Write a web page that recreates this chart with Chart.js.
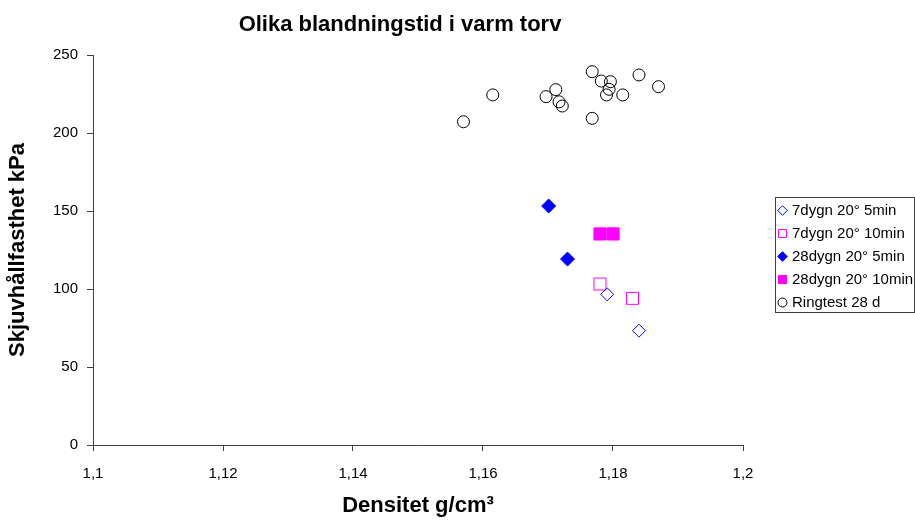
<!DOCTYPE html>
<html>
<head>
<meta charset="utf-8">
<script src="https://cdn.jsdelivr.net/npm/chart.js@4/dist/chart.umd.min.js"></script>
<style>
  html, body { margin: 0; padding: 0; background: #fff; }
  #wrap { width: 915px; height: 522px; }
</style>
</head>
<body>
<div id="wrap"><canvas id="chart" width="915" height="522"></canvas></div>
<script>
/* texter */
const chartTitle = 'Olika blandningstid i varm torv';
const xTitle = 'Densitet g/cm³';
const yTitle = 'Skjuvhållfasthet kPa';

/* axlar */
const xTicks = [1.1, 1.12, 1.14, 1.16, 1.18, 1.2];
const yTicks = [0, 50, 100, 150, 200, 250];

/* serier */
const seriesNames = ['7dygn 20° 5min', '7dygn 20° 10min', '28dygn 20° 5min', '28dygn 20° 10min', 'Ringtest 28 d'];

const d7min5X = [1.1791, 1.184];
const d7min5Y = [96.6, 73.3];

const d7min10X = [1.178, 1.183];
const d7min10Y = [103.2, 94];

const d28min5X = [1.1701, 1.173];
const d28min5Y = [153.2, 119.2];

const d28min10X = [1.178, 1.18];
const d28min10Y = [135.3, 135.3];

const ringX = [1.157, 1.1615, 1.1697, 1.1712, 1.1717, 1.1722, 1.1768, 1.1768, 1.1782, 1.179, 1.1794, 1.1796, 1.1815, 1.184, 1.187];
const ringY = [207.2, 224.4, 223.3, 227.8, 220.0, 217.3, 239.3, 209.4, 233.3, 224.4, 228.0, 232.9, 224.4, 237.2, 229.7];

function pts(xs, ys) {
    return xs.map((x, i) => ({ x: x, y: ys[i] }));
}

const FONT = "'Liberation Sans', Arial, sans-serif";
Chart.defaults.font.family = FONT;
Chart.defaults.color = '#000';

const BLUE = '#0000FF';
const MAGENTA = '#FF00FF';

function komma(v) {
    return String(Math.round(v * 1000) / 1000).replace('.', ',');
}

// rita en symbol (används i förklaringen)
function ritaSymbol(ctx, style, x, y, r, fill, stroke) {
    ctx.beginPath();
    if (style === 'rectRot') {
        ctx.moveTo(x - r, y); ctx.lineTo(x, y - r); ctx.lineTo(x + r, y); ctx.lineTo(x, y + r);
        ctx.closePath();
    } else if (style === 'rect') {
        ctx.rect(x - r, y - r, 2 * r, 2 * r);
    } else {
        ctx.arc(x, y, r, 0, Math.PI * 2);
    }
    if (fill) { ctx.fillStyle = fill; ctx.fill(); }
    ctx.lineWidth = 1;
    ctx.strokeStyle = stroke;
    ctx.stroke();
}

const titelPlugin = {
    id: 'titel',
    afterDraw(chart) {
        const ctx = chart.ctx;
        ctx.save();
        ctx.font = 'bold 22px ' + FONT;
        ctx.fillStyle = '#000';
        ctx.textAlign = 'center';
        ctx.textBaseline = 'middle';
        ctx.fillText(chartTitle, 400, 25);
        ctx.restore();
    }
};

const forklaringPlugin = {
    id: 'forklaring',
    afterDraw(chart) {
        const ctx = chart.ctx;
        const bx = 775.5, by = 197.5, bw = 139, bh = 115;
        ctx.save();
        ctx.fillStyle = '#fff';
        ctx.fillRect(bx, by, bw, bh);
        ctx.strokeStyle = '#404040';
        ctx.lineWidth = 1;
        ctx.strokeRect(bx, by, bw, bh);
        ctx.font = '15px ' + FONT;
        ctx.textBaseline = 'middle';
        chart.data.datasets.forEach((ds, i) => {
            const cy = 210 + i * 23;
            const r = ds.pointStyle === 'circle' ? 4.5 : (ds.pointStyle === 'rect' ? 4 : 4.8);
            const fill = ds.backgroundColor === 'transparent' ? null : ds.backgroundColor;
            ritaSymbol(ctx, ds.pointStyle, 782.5, cy + 0.5, r, fill, ds.borderColor);
            ctx.fillStyle = '#000';
            ctx.fillText(ds.label, 792, cy + 1);
        });
        ctx.restore();
    }
};

new Chart(document.getElementById('chart'), {
    type: 'scatter',
    data: {
        datasets: [
            {
                label: seriesNames[0], data: pts(d7min5X, d7min5Y),
                pointStyle: 'rectRot', pointRadius: 6.5, pointHoverRadius: 6.5,
                backgroundColor: 'transparent', borderColor: BLUE, borderWidth: 1
            },
            {
                label: seriesNames[1], data: pts(d7min10X, d7min10Y),
                pointStyle: 'rect', pointRadius: 8.5, pointHoverRadius: 8.5,
                backgroundColor: 'transparent', borderColor: MAGENTA, borderWidth: 1
            },
            {
                label: seriesNames[2], data: pts(d28min5X, d28min5Y),
                pointStyle: 'rectRot', pointRadius: 7, pointHoverRadius: 7,
                backgroundColor: BLUE, borderColor: BLUE, borderWidth: 1
            },
            {
                label: seriesNames[3], data: pts(d28min10X, d28min10Y),
                pointStyle: 'rect', pointRadius: 8.6, pointHoverRadius: 8.6,
                backgroundColor: MAGENTA, borderColor: MAGENTA, borderWidth: 1
            },
            {
                label: seriesNames[4], data: pts(ringX, ringY),
                pointStyle: 'circle', pointRadius: 6, pointHoverRadius: 6,
                backgroundColor: 'transparent', borderColor: '#000', borderWidth: 1
            }
        ]
    },
    options: {
        responsive: false,
        animation: false,
        events: [],
        layout: { padding: { top: 55, right: 172, bottom: 0, left: 0 } },
        plugins: {
            legend: { display: false },
            title: { display: false },
            tooltip: { enabled: false }
        },
        scales: {
            x: {
                type: 'linear',
                min: xTicks[0],
                max: xTicks[xTicks.length - 1],
                afterBuildTicks: s => { s.ticks = xTicks.map(v => ({ value: v })); },
                afterFit: s => { s.height = 77; },
                ticks: {
                    font: { size: 15 },
                    padding: 14,
                    maxRotation: 0,
                    callback: v => komma(v)
                },
                grid: { drawOnChartArea: false, drawTicks: true, tickLength: 6, color: '#404040' },
                border: { color: '#404040', width: 1 },
                title: {
                    display: true, text: xTitle,
                    font: { size: 22, weight: 'bold' },
                    padding: { top: 0, bottom: 3 }
                }
            },
            y: {
                type: 'linear',
                min: yTicks[0],
                max: yTicks[yTicks.length - 1],
                afterBuildTicks: s => { s.ticks = yTicks.map(v => ({ value: v })); },
                afterFit: s => { s.width = 93; },
                ticks: {
                    font: { size: 15 },
                    padding: 9,
                    callback: v => String(v)
                },
                grid: { drawOnChartArea: false, drawTicks: true, tickLength: 6, color: '#404040' },
                border: { color: '#404040', width: 1 },
                title: {
                    display: true, text: yTitle,
                    font: { size: 22, weight: 'bold' },
                    padding: { top: 5, bottom: 0 }
                }
            }
        }
    },
    plugins: [titelPlugin, forklaringPlugin]
});
</script>
</body>
</html>
